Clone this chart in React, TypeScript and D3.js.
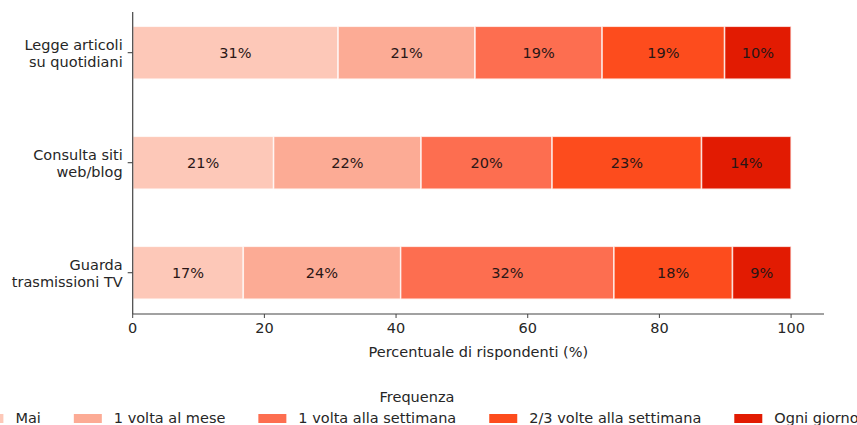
import { useMemo } from "react"
import * as d3 from "d3"

const categories = [
  ["Legge articoli", "su quotidiani"],
  ["Consulta siti", "web/blog"],
  ["Guarda", "trasmissioni TV"],
]
const seriesNames = ["Mai", "1 volta al mese", "1 volta alla settimana", "2/3 volte alla settimana", "Ogni giorno"]
// one array per frequency, in category order
const mai = [31.2, 21.4, 16.8]
const alMese = [20.8, 22.4, 23.9]
const allaSettimana = [19.3, 19.9, 32.4]
const dueTreVolte = [18.6, 22.7, 18.0]
const ogniGiorno = [10.1, 13.6, 8.9]
const seriesValues = [mai, alMese, allaSettimana, dueTreVolte, ogniGiorno]
const colors = ["#fdc8b8", "#fcab95", "#fd6e50", "#fd4c1d", "#e21b02"]
const xTicks = [0, 20, 40, 60, 80, 100]

const W = 857
const H = 425
const FONT = "DejaVu Sans, sans-serif"
const FS = 14.5

const measure = (t: string, size: number) => {
  const c = document.createElement("canvas").getContext("2d")
  if (!c) return t.length * size * 0.6
  c.font = `${size}px DejaVu Sans`
  return c.measureText(t).width
}

const App = () => {
  const x = d3.scaleLinear().domain([0, 105]).range([132.7, 824])
  const y = d3.scaleLinear().domain([-0.37, 2.375]).range([12, 314])
  const barH = y(0.24) - y(-0.24)

  const stacked = useMemo(() => {
    return categories.map((_, ci) => {
      let acc = 0
      return seriesValues.map((vals, si) => {
        const v = vals[ci]
        const seg = { si, x0: acc, x1: acc + v, label: `${Math.round(v)}%` }
        acc += v
        return seg
      })
    })
  }, [])

  // legend layout, centred under the figure
  const legend = useMemo(() => {
    const patchW = 28, gapText = 12, gapItem = 33
    const widths = seriesNames.map(n => measure(n, FS))
    const total = widths.reduce((a, b) => a + b, 0) + seriesNames.length * (patchW + gapText) + (seriesNames.length - 1) * gapItem
    let cx = 417 - total / 2
    return seriesNames.map((name, i) => {
      const item = { name, px: cx, tx: cx + patchW + gapText, color: colors[i] }
      cx += patchW + gapText + widths[i] + gapItem
      return item
    })
  }, [])

  return (
    <svg width={W} height={H} style={{ display: "block", position: "absolute", left: 0, top: 0, background: "#fff" }} fontFamily={FONT}>
      {stacked.map((row, ci) => (
        <g key={ci}>
          {row.map(seg => (
            <g key={seg.si}>
              <rect
                x={x(seg.x0)}
                y={y(ci) - barH / 2}
                width={x(seg.x1) - x(seg.x0)}
                height={barH}
                fill={colors[seg.si]}
                stroke="#fff"
                strokeOpacity={0.75}
                strokeWidth={1.5}
              />
              <text
                x={(x(seg.x0) + x(seg.x1)) / 2}
                y={y(ci)}
                dy="0.35em"
                textAnchor="middle"
                fontSize={FS}
                fill="#2a1616"
              >
                {seg.label}
              </text>
            </g>
          ))}
          <line x1={x(0) - 5} x2={x(0)} y1={y(ci)} y2={y(ci)} stroke="#333" />
          <text x={x(0) - 10} y={y(ci)} textAnchor="end" fontSize={FS} fill="#262626">
            <tspan x={x(0) - 10} dy="-3">{categories[ci][0]}</tspan>
            <tspan x={x(0) - 10} dy="17">{categories[ci][1]}</tspan>
          </text>
        </g>
      ))}

      {/* spines */}
      <line x1={x(0)} x2={x(0)} y1={12} y2={314} stroke="#444" strokeWidth={1.2} />
      <line x1={x(0)} x2={x(105)} y1={314} y2={314} stroke="#444" strokeWidth={1.2} />

      {xTicks.map(t => (
        <g key={t} transform={`translate(${x(t)}, 314)`}>
          <line y2={4} stroke="#444" />
          <text y={14} dy="0.35em" textAnchor="middle" fontSize={FS} fill="#262626">{t}</text>
        </g>
      ))}
      <text x={(x(0) + x(105)) / 2} y={352} dy="0.35em" textAnchor="middle" fontSize={FS} fill="#262626">
        Percentuale di rispondenti (%)
      </text>

      <text x={417} y={397} dy="0.35em" textAnchor="middle" fontSize={FS} fill="#262626">Frequenza</text>
      {legend.map(item => (
        <g key={item.name}>
          <rect x={item.px} y={414} width={28} height={9} fill={item.color} />
          <text x={item.tx} y={418} dy="0.35em" fontSize={FS} fill="#262626">{item.name}</text>
        </g>
      ))}
    </svg>
  )
}

export default App
